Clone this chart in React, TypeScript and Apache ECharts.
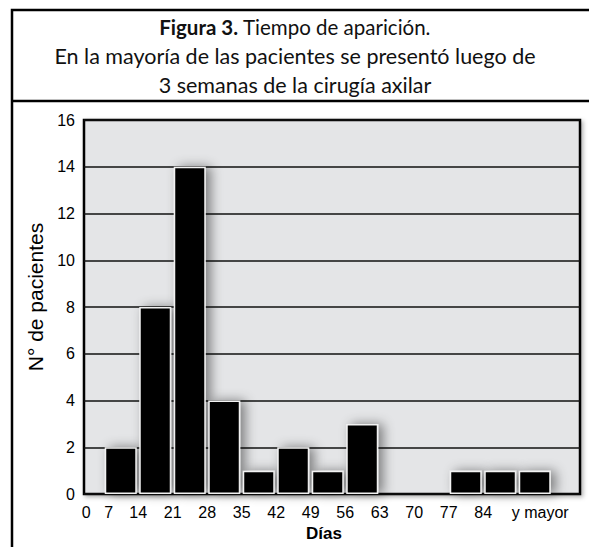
import React, { useEffect, useRef } from "react";
import * as echarts from "echarts";

const binLabels = ["0", "7", "14", "21", "28", "35", "42", "49", "56", "63", "70", "77", "84", "y mayor"];
const patients = [0, 2, 8, 14, 4, 1, 2, 1, 3, 0, 0, 1, 1, 1];
const yMin = 0;
const yMax = 16;
const yStep = 2;
const titleBold = "Figura 3.";
const titleRest = " Tiempo de aparición.";
const titleLine2 = "En la mayoría de las pacientes se presentó luego de";
const titleLine3 = "3 semanas de la cirugía axilar";
const yName = "N° de pacientes";
const xName = "Días";

export default function App() {
  const ref = useRef<HTMLDivElement>(null);
  useEffect(() => {
    if (!ref.current) return;
    const chart = echarts.init(ref.current, null, { renderer: "svg" });
    const labelFont = "'Liberation Sans', Arial, sans-serif";
    const titleFont = "Lato, sans-serif";
    const tSize = 21.5;
    chart.setOption({
      animation: false,
      backgroundColor: "#ffffff",
      graphic: [
        {
          type: "rect",
          shape: { x: 12, y: 10, width: 620, height: 600 },
          style: { fill: "none", stroke: "#000", lineWidth: 2.5 },
          z: 10,
        },
        {
          type: "line",
          shape: { x1: 12, y1: 101, x2: 600, y2: 101 },
          style: { stroke: "#000", lineWidth: 2.5 },
          z: 10,
        },
        {
          type: "text",
          x: 295,
          y: 27,
          z: 10,
          style: {
            text: `{b|${titleBold}}{r|${titleRest}}`,
            align: "center",
            verticalAlign: "middle",
            fontFamily: titleFont,
            fontSize: 20.5,
            fill: "#111",
            rich: {
              b: { fontFamily: titleFont, fontWeight: "bold", fontSize: 20.5, fill: "#111" },
              r: { fontFamily: titleFont, fontWeight: "normal", fontSize: 20.5, fill: "#111" },
            },
          },
        },
        {
          type: "text",
          x: 295,
          y: 56,
          z: 10,
          style: {
            text: titleLine2,
            align: "center",
            verticalAlign: "middle",
            fontFamily: titleFont,
            fontSize: tSize,
            fill: "#111",
          },
        },
        {
          type: "text",
          x: 295,
          y: 85,
          z: 10,
          style: {
            text: titleLine3,
            align: "center",
            verticalAlign: "middle",
            fontFamily: titleFont,
            fontSize: tSize,
            fill: "#111",
          },
        },
      ],
      grid: [
        {
          left: 84,
          right: 9,
          top: 120,
          bottom: 53,
          show: true,
          backgroundColor: "#e4e5e7",
          borderColor: "#000",
          borderWidth: 2.5,
          shadowBlur: 4,
          shadowColor: "rgba(0,0,0,0.3)",
          shadowOffsetX: 2,
          shadowOffsetY: 2,
        },
        { left: 69, right: 37, top: 120, bottom: 53 },
      ],
      xAxis: [
        {
          type: "category",
          gridIndex: 0,
          data: binLabels,
          axisLine: { show: false },
          axisTick: { show: false },
          axisLabel: { show: false },
          name: xName,
          nameLocation: "middle",
          nameGap: 31,
          nameTextStyle: {
            fontFamily: labelFont,
            fontWeight: "bold",
            fontSize: 17,
            color: "#000",
            padding: [0, 16, 0, 0],
          },
        },
        {
          type: "category",
          gridIndex: 1,
          data: binLabels,
          axisLine: { show: false },
          axisTick: { show: false },
          axisLabel: {
            interval: 0,
            margin: 10,
            fontFamily: labelFont,
            fontSize: 16,
            color: "#000",
            formatter: (v: string, i: number) =>
              i === 0 ? `{z|${v}}` : i === 1 ? `{s|${v}}` : i === binLabels.length - 1 ? `{m|${v}}` : `{n|${v}}`,
            rich: {
              z: { fontFamily: labelFont, fontSize: 16, color: "#000" },
              s: { fontFamily: labelFont, fontSize: 16, color: "#000", padding: [0, 24, 0, 0] },
              n: { fontFamily: labelFont, fontSize: 16, color: "#000", padding: [0, 34, 0, 0] },
              m: { fontFamily: labelFont, fontSize: 16, color: "#000", padding: [0, 0, 0, 11] },
            },
          },
        },
      ],
      yAxis: [
        {
          type: "value",
          gridIndex: 0,
          min: yMin,
          max: yMax,
          interval: yStep,
          axisLine: { show: false },
          axisTick: { show: false },
          axisLabel: { margin: 9, fontFamily: labelFont, fontSize: 16, color: "#000" },
          splitLine: { show: true, lineStyle: { color: "#111", width: 1.5 } },
          name: yName,
          nameLocation: "middle",
          nameGap: 31,
          nameTextStyle: { fontFamily: labelFont, fontSize: 21, color: "#000", padding: [0, 0, 0, 20] },
        },
        {
          type: "value",
          gridIndex: 1,
          min: yMin,
          max: yMax,
          interval: yStep,
          show: false,
          splitLine: { show: false },
        },
      ],
      series: [
        {
          type: "bar",
          xAxisIndex: 1,
          yAxisIndex: 1,
          data: patients,
          barWidth: 32,
          itemStyle: {
            color: "#000",
            borderColor: "#f2f2f2",
            borderWidth: 1.5,
            shadowBlur: 12,
            shadowColor: "rgba(0,0,0,0.45)",
            shadowOffsetX: 5,
            shadowOffsetY: 0,
          },
        },
      ],
    });
    return () => chart.dispose();
  }, []);
  return <div ref={ref} style={{ position: "fixed", left: 0, top: 0, width: 589, height: 547 }} />;
}
